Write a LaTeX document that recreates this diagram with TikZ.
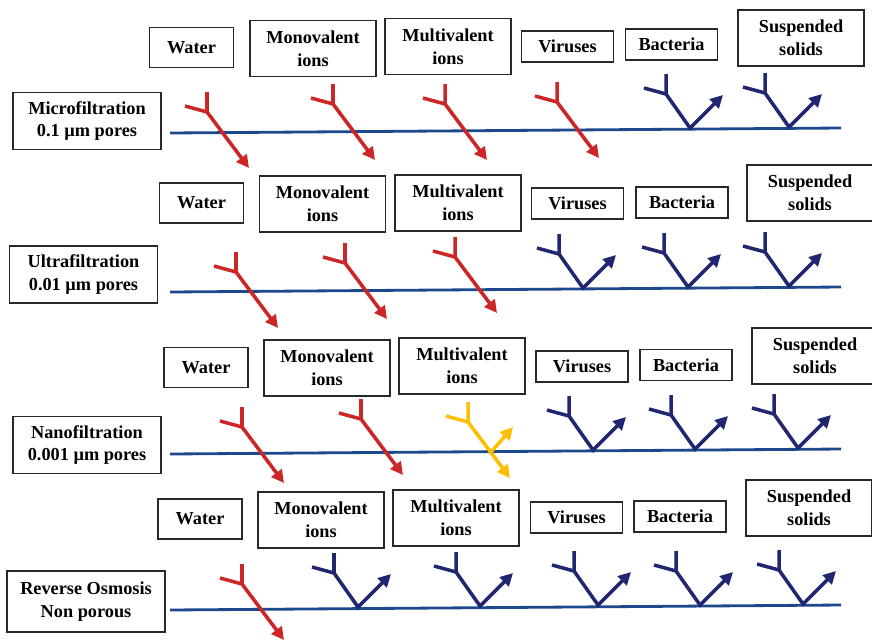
\documentclass[tikz,border=0pt]{standalone}
\usepackage{fontspec}
\setmainfont{Liberation Serif}
\usepackage{xcolor}
\usepackage{tikz}
\usetikzlibrary{positioning, calc, arrows.meta}
\definecolor{IonRed}{RGB}{205,38,38}
\definecolor{IonNavy}{RGB}{32,38,112}
\definecolor{IonGold}{RGB}{255,190,0}
\definecolor{MembraneBlue}{RGB}{28,72,140}
\definecolor{BoxGray}{RGB}{40,40,40}
% species that goes through the membrane (#1 name, #2 junction, #3 colour)
\newcommand{\drawpass}[3]{
    \coordinate (#1) at (#2);
    \draw[glyph, ptr, #3] ($(#1)+(0,-20)$) -- (#1) -- ++(42,56);
    \draw[glyph, #3] (#1) -- ++(-22,-6);
}
% species that is held back (#1 name, #2 point on membrane, #3 colour)
\newcommand{\drawreject}[3]{
    \coordinate (#1) at (#2);
    \draw[glyph, ptr, #3] ($(#1)+(-24,-54)$) -- ++(0,20) -- (#1) -- ++(33,-33);
    \draw[glyph, #3] ($(#1)+(-24,-34)$) -- ++(-22,-6);
}
\tikzset{
    filterbox/.style={
        draw=BoxGray, line width=1pt, fill=white, align=center, inner sep=1pt,
        font=\bfseries\fontsize{13}{16.3}\selectfont
    },
    onebox/.style={
        filterbox, minimum width=2.1cm, minimum height=1cm
    },
    twobox/.style={
        filterbox, minimum width=3.15cm, minimum height=1.4cm
    },
    flatbox/.style={
        filterbox, minimum width=2.3cm, minimum height=0.775cm
    },
    procbox/.style={
        filterbox, minimum width=3.7cm, minimum height=1.425cm
    },
    membrane/.style={
        line width=2pt, MembraneBlue
    },
    glyph/.style={
        line width=2.5pt
    },
    ptr/.style={
        -{Triangle[length=9pt, width=9pt]}
    }
}
\begin{document}
\begin{tikzpicture}[x=0.025cm, y=-0.025cm]
    \useasboundingbox (0,0) rectangle (872,639);

    % --- MICROFILTRATION ---
    \node[onebox] (water1) at (191.5,47.5) {Water};
    \node[twobox] (mono1) at (313,48.5) {Monovalent\\ions};
    \node[twobox] (multi1) at (448,46.5) {Multivalent\\ions};
    \node[flatbox] (vir1) at (567.5,46.5) {Viruses};
    \node[flatbox] (bac1) at (671.5,44.5) {Bacteria};
    \node[twobox] (sus1) at (801,38) {Suspended\\solids};
    \node[procbox] (mf) at (87,121) {Microfiltration\\0.1 µm pores};
    \coordinate (mf-in) at (170,133);
    \coordinate (mf-out) at (841,128);
    \draw[membrane] (mf-in) -- (mf-out);
    \drawpass{w1}{207,112}{IonRed}
    \drawpass{m1}{333,104}{IonRed}
    \drawpass{mv1}{445,104}{IonRed}
    \drawpass{v1}{557,102}{IonRed}
    \drawreject{b1}{690,128}{IonNavy}
    \drawreject{s1}{789,127}{IonNavy}

    % --- ULTRAFILTRATION ---
    \node[onebox] (water2) at (201.5,203) {Water};
    \node[twobox] (mono2) at (322.5,204) {Monovalent\\ions};
    \node[twobox] (multi2) at (458,203) {Multivalent\\ions};
    \node[flatbox] (vir2) at (577.5,203.5) {Viruses};
    \node[flatbox] (bac2) at (682,202.5) {Bacteria};
    \node[twobox] (sus2) at (810,193) {Suspended\\solids};
    \node[procbox] (uf) at (83.5,274.5) {Ultrafiltration\\0.01 µm pores};
    \coordinate (uf-in) at (170,292);
    \coordinate (uf-out) at (841,287);
    \draw[membrane] (uf-in) -- (uf-out);
    \drawpass{w2}{236,272}{IonRed}
    \drawpass{m2}{345,263}{IonRed}
    \drawpass{mv2}{455,257}{IonRed}
    \drawreject{v2}{583,288}{IonNavy}
    \drawreject{b2}{688,287}{IonNavy}
    \drawreject{s2}{789,286}{IonNavy}

    % --- NANOFILTRATION ---
    \node[onebox] (water3) at (206,367.5) {Water};
    \node[twobox] (mono3) at (327,368) {Monovalent\\ions};
    \node[twobox] (multi3) at (462,366) {Multivalent\\ions};
    \node[flatbox] (vir3) at (582,366.5) {Viruses};
    \node[flatbox] (bac3) at (686,365) {Bacteria};
    \node[twobox] (sus3) at (815,356) {Suspended\\solids};
    \node[procbox] (nf) at (87,445) {Nanofiltration\\0.001 µm pores};
    \coordinate (nf-in) at (170,454);
    \coordinate (nf-out) at (841,449);
    \draw[membrane] (nf-in) -- (nf-out);
    \drawpass{w3}{242,427}{IonRed}
    \drawpass{m3}{361,419}{IonRed}
    \drawpass{mv3}{468,422}{IonGold}
    \coordinate (mv3x) at (491,452);
    \draw[glyph, ptr, IonGold] (mv3x) -- ++(22,-25);
    \drawreject{v3}{593,450}{IonNavy}
    \drawreject{b3}{695,449}{IonNavy}
    \drawreject{s3}{798,448}{IonNavy}

    % --- REVERSE OSMOSIS ---
    \node[onebox] (water4) at (200,519) {Water};
    \node[twobox] (mono4) at (321,520) {Monovalent\\ions};
    \node[twobox] (multi4) at (456,518) {Multivalent\\ions};
    \node[flatbox] (vir4) at (576.5,517.5) {Viruses};
    \node[flatbox] (bac4) at (680,516.5) {Bacteria};
    \node[twobox] (sus4) at (809,508) {Suspended\\solids};
    \node[procbox, minimum width=3.95cm, minimum height=1.525cm] (ro) at (86,601.5) {Reverse Osmosis\\Non porous};
    \coordinate (ro-in) at (170,610);
    \coordinate (ro-out) at (841,605);
    \draw[membrane] (ro-in) -- (ro-out);
    \drawpass{w4}{242,584}{IonRed}
    \drawreject{m4}{358,607}{IonNavy}
    \drawreject{mv4}{480,606}{IonNavy}
    \drawreject{v4}{598,605}{IonNavy}
    \drawreject{b4}{700,605}{IonNavy}
    \drawreject{s4}{803,604}{IonNavy}
\end{tikzpicture}
\end{document}
